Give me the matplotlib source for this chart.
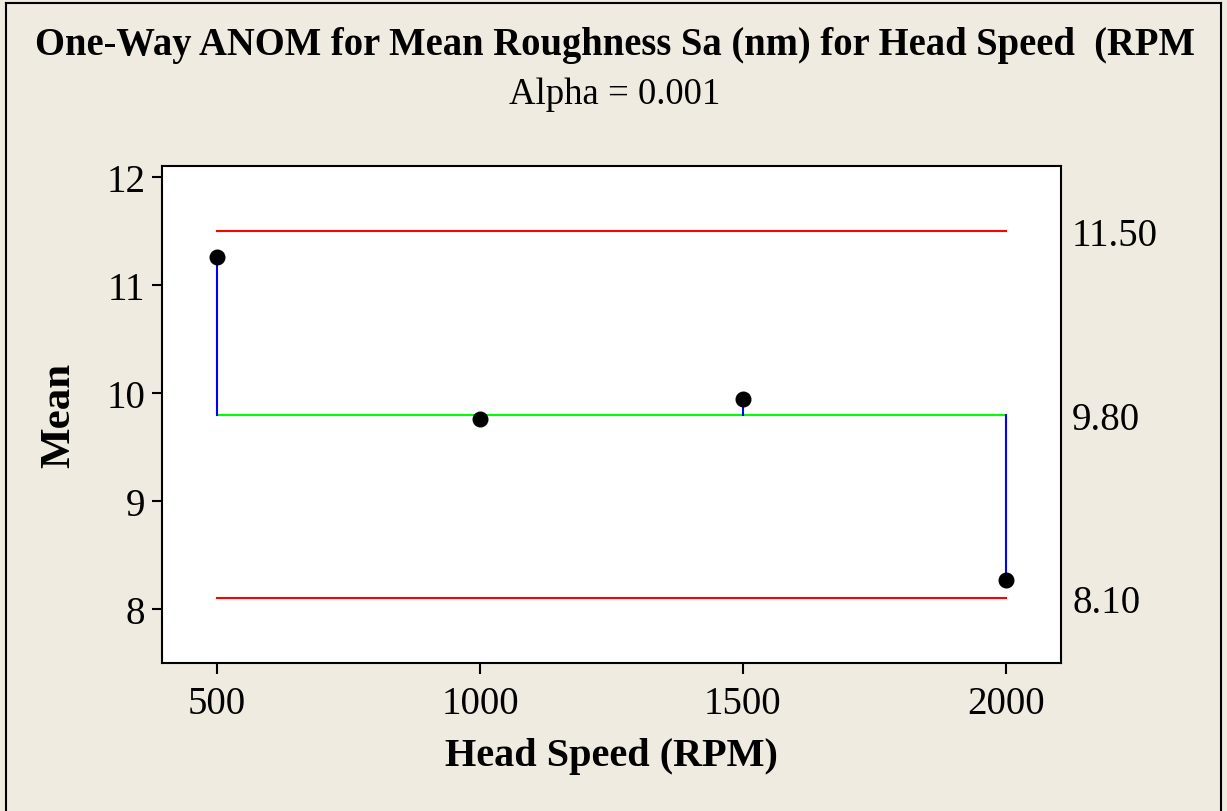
import matplotlib
matplotlib.use("Agg")
import matplotlib.pyplot as plt
from matplotlib.lines import Line2D

# ANOM data: head speed levels and mean roughness
speeds = [500, 1000, 1500, 2000]
means = [11.26, 9.76, 9.94, 8.27]
center = 9.80
udl = 11.50
ldl = 8.10
limit_labels = ["11.50", "9.80", "8.10"]

title = "One-Way ANOM for Mean Roughness Sa (nm) for Head Speed  (RPM"
subtitle = "Alpha = 0.001"

bg = "#F0EBE1"
plt.rcParams["font.family"] = ["Liberation Serif", "DejaVu Serif"]

fig = plt.figure(figsize=(12.27, 8.12), dpi=100, facecolor=bg)
ax = fig.add_axes([0.1320, 0.1823, 0.7327, 0.6120])
ax.set_facecolor("white")

# decision limits and center line
ax.plot([speeds[0], speeds[-1]], [udl, udl], color="red", lw=1.5, zorder=2)
ax.plot([speeds[0], speeds[-1]], [ldl, ldl], color="red", lw=1.5, zorder=2)
ax.plot([speeds[0], speeds[-1]], [center, center], color="#00FF00", lw=1.5, zorder=2)

# deviation lines from center to each mean
for s, m in zip(speeds, means):
    ax.plot([s, s], [center, m], color="blue", lw=1.5, zorder=3)
ax.plot(speeds, means, "o", color="black", ms=10.5, zorder=4)

ax.set_xlim(395, 2105)
ax.set_ylim(7.5, 12.1)
ax.set_xticks(speeds)
ax.set_yticks([8, 9, 10, 11, 12])
ax.tick_params(axis="both", labelsize=28, width=1.5, direction="out")
ax.tick_params(axis="y", length=7, pad=5)
ax.tick_params(axis="x", length=8, pad=8)
for sp in ax.spines.values():
    sp.set_linewidth(1.5)

# limit values on the right side
ax2 = ax.twinx()
ax2.set_ylim(ax.get_ylim())
ax2.set_yticks([udl, center, ldl])
ax2.set_yticklabels(limit_labels)
ax2.tick_params(axis="y", length=0, pad=8, labelsize=28)
for sp in ax2.spines.values():
    sp.set_visible(False)

ax.set_ylabel("Mean", fontsize=31, fontweight="bold", labelpad=20)
ax.set_xlabel("Head Speed (RPM)", fontsize=29, fontweight="bold", labelpad=11)

fig.text(0.501, 1 - 45 / 812, title, ha="center", va="center",
         fontsize=27.8, fontweight="bold")
fig.text(0.501, 1 - 95 / 812, subtitle, ha="center", va="center", fontsize=26.5)

# outer frame
W, H = 1227, 812
frame = [
    ((6 / W, 6 / W), (0, 1 - 4 / H)),
    ((6 / W, 1221 / W), (1 - 4 / H, 1 - 4 / H)),
    ((1221 / W, 1221 / W), (0, 1 - 4 / H)),
]
for xs, ys in frame:
    fig.add_artist(Line2D(xs, ys, color="black", lw=1.5, transform=fig.transFigure))

fig.savefig("out.png", dpi=100, facecolor=bg)
